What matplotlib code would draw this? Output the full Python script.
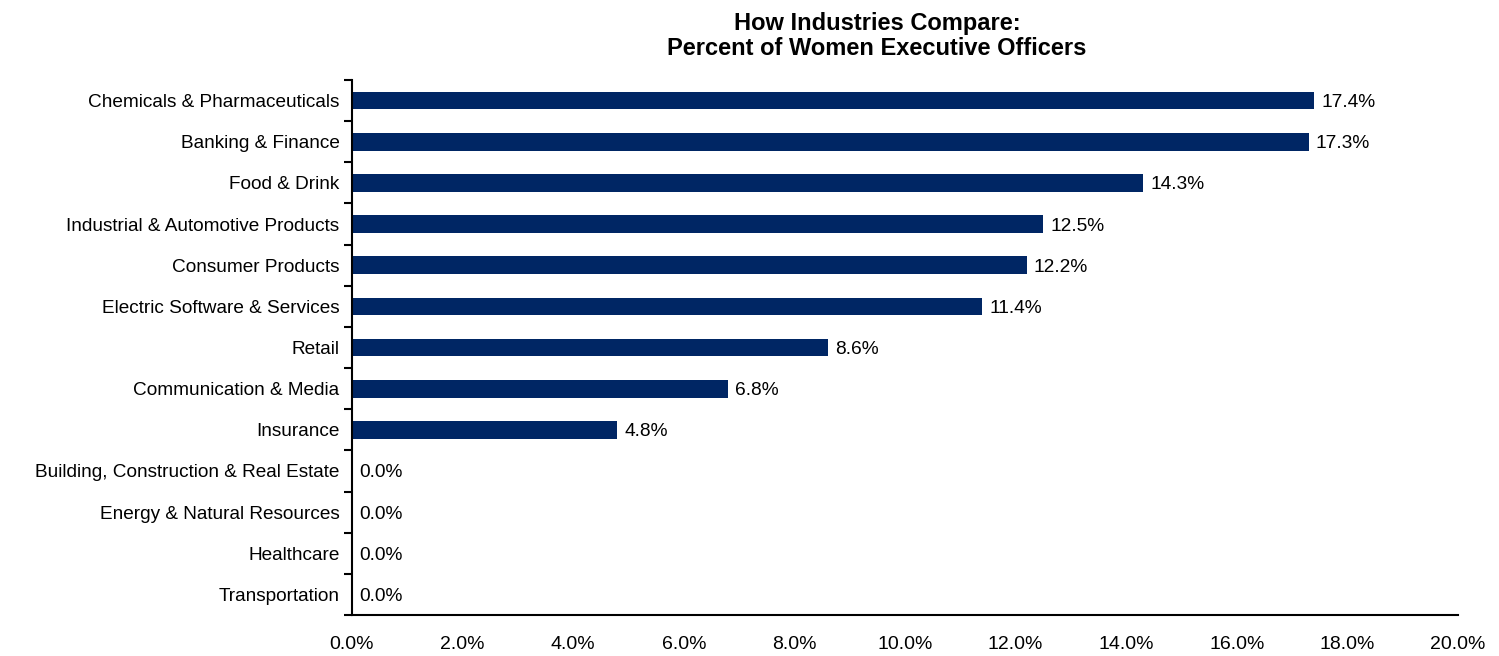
import matplotlib.pyplot as plt
import numpy as np

plt.rcParams['font.family'] = ['Liberation Sans', 'DejaVu Sans']

industries = [
    'Chemicals & Pharmaceuticals',
    'Banking & Finance',
    'Food & Drink',
    'Industrial & Automotive Products',
    'Consumer Products',
    'Electric Software & Services',
    'Retail',
    'Communication & Media',
    'Insurance',
    'Building, Construction & Real Estate',
    'Energy & Natural Resources',
    'Healthcare',
    'Transportation',
]
pct_women = [17.4, 17.3, 14.3, 12.5, 12.2, 11.4, 8.6, 6.8, 4.8, 0.0, 0.0, 0.0, 0.0]
xticks = np.arange(0, 20.1, 2)

fig = plt.figure(figsize=(14.99, 6.56), dpi=100)
ax = fig.add_axes([0.2348, 0.0625, 0.7379, 0.8155])

n = len(industries)
ypos = np.arange(n)
ax.barh(ypos, pct_women, height=0.43, color='#002664')
ax.set_ylim(n - 0.5, -0.5)
ax.set_xlim(0, 20)

for y, v in zip(ypos, pct_women):
    ax.text(v + 0.13, y, f'{v:.1f}%', va='center_baseline', ha='left', fontsize=13.8)

# category labels sit between the boundary tick marks
ax.set_yticks(ypos)
ax.set_yticklabels(industries, fontsize=13.7)
ax.tick_params(axis='y', which='major', length=0, pad=9)
ax.set_yticks(np.arange(n + 1) - 0.5, minor=True)
ax.tick_params(axis='y', which='minor', length=6, width=1.5, direction='out')

ax.set_xticks(xticks)
ax.set_xticklabels([f'{t:.1f}%' for t in xticks], fontsize=14)
ax.tick_params(axis='x', length=0, pad=15)

for side in ['top', 'right']:
    ax.spines[side].set_visible(False)
ax.spines['left'].set_linewidth(1.5)
ax.spines['bottom'].set_linewidth(1.5)

fig.text(0.585, 0.982, 'How Industries Compare:\nPercent of Women Executive Officers',
         ha='center', va='top', fontsize=17, fontweight='bold', linespacing=1.1)

fig.savefig('out.png', dpi=100)
